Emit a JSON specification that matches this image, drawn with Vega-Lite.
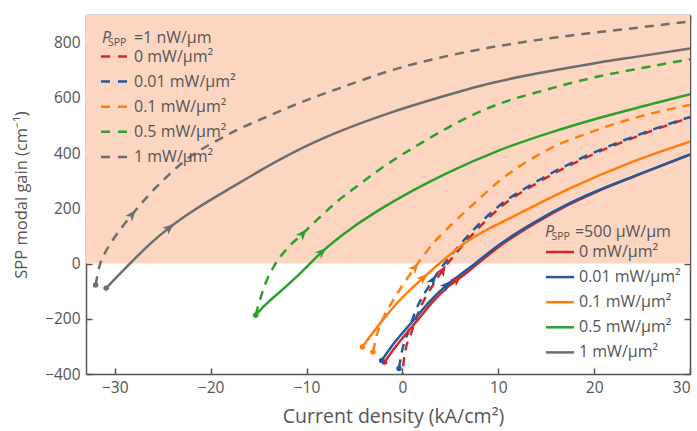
{
  "$schema": "https://vega.github.io/schema/vega-lite/v6.json",
  "width": 604,
  "height": 359,
  "autosize": {"type": "none"},
  "padding": {"left": 86, "top": 15, "right": 7, "bottom": 57},
  "background": "white",
  "config": {
    "font": "Open Sans",
    "view": {"stroke": null},
    "axis": {
      "labelFont": "Open Sans", "titleFont": "Open Sans",
      "labelColor": "#555555", "titleColor": "#555555",
      "labelFontSize": 15.5, "titleFontSize": 16.5, "titleFontWeight": "normal",
      "domainColor": "#555555", "tickColor": "#555555",
      "domainWidth": 1.5, "tickWidth": 1.5, "grid": false,
      "tickSize": 6, "labelPadding": 6, "zindex": 1
    },
    "legend": {
      "labelFont": "Open Sans", "labelFontSize": 16, "labelColor": "#555555",
      "symbolType": "M-1.4,0L1.4,0", "symbolSize": 400, "symbolStrokeWidth": 2.5,
      "padding": 0, "rowPadding": 5.1, "labelLimit": 300
    }
  },
  "datasets": {
    "curves": [
      {"psp": "500 µW/µm", "intensity": "0 mW/µm²", "x": -1.86, "y": -357},
      {"psp": "500 µW/µm", "intensity": "0 mW/µm²", "x": -0.85, "y": -308},
      {"psp": "500 µW/µm", "intensity": "0 mW/µm²", "x": 0.15, "y": -264},
      {"psp": "500 µW/µm", "intensity": "0 mW/µm²", "x": 1.82, "y": -195},
      {"psp": "500 µW/µm", "intensity": "0 mW/µm²", "x": 3.18, "y": -138},
      {"psp": "500 µW/µm", "intensity": "0 mW/µm²", "x": 4.9, "y": -80},
      {"psp": "500 µW/µm", "intensity": "0 mW/µm²", "x": 6.71, "y": -33},
      {"psp": "500 µW/µm", "intensity": "0 mW/µm²", "x": 8.0, "y": 4},
      {"psp": "500 µW/µm", "intensity": "0 mW/µm²", "x": 10.4, "y": 69},
      {"psp": "500 µW/µm", "intensity": "0 mW/µm²", "x": 13.9, "y": 147},
      {"psp": "500 µW/µm", "intensity": "0 mW/µm²", "x": 17.4, "y": 214},
      {"psp": "500 µW/µm", "intensity": "0 mW/µm²", "x": 20.2, "y": 259},
      {"psp": "500 µW/µm", "intensity": "0 mW/µm²", "x": 24.15, "y": 315},
      {"psp": "500 µW/µm", "intensity": "0 mW/µm²", "x": 30, "y": 394},

      {"psp": "500 µW/µm", "intensity": "0.01 mW/µm²", "x": -2.16, "y": -351},
      {"psp": "500 µW/µm", "intensity": "0.01 mW/µm²", "x": -1.15, "y": -301},
      {"psp": "500 µW/µm", "intensity": "0.01 mW/µm²", "x": -0.15, "y": -258},
      {"psp": "500 µW/µm", "intensity": "0.01 mW/µm²", "x": 1.52, "y": -191},
      {"psp": "500 µW/µm", "intensity": "0.01 mW/µm²", "x": 2.88, "y": -136},
      {"psp": "500 µW/µm", "intensity": "0.01 mW/µm²", "x": 4.6, "y": -78},
      {"psp": "500 µW/µm", "intensity": "0.01 mW/µm²", "x": 6.41, "y": -31},
      {"psp": "500 µW/µm", "intensity": "0.01 mW/µm²", "x": 7.72, "y": 4},
      {"psp": "500 µW/µm", "intensity": "0.01 mW/µm²", "x": 10.14, "y": 69},
      {"psp": "500 µW/µm", "intensity": "0.01 mW/µm²", "x": 13.67, "y": 147},
      {"psp": "500 µW/µm", "intensity": "0.01 mW/µm²", "x": 17.2, "y": 214},
      {"psp": "500 µW/µm", "intensity": "0.01 mW/µm²", "x": 20.03, "y": 259},
      {"psp": "500 µW/µm", "intensity": "0.01 mW/µm²", "x": 24.06, "y": 315},
      {"psp": "500 µW/µm", "intensity": "0.01 mW/µm²", "x": 30, "y": 395},

      {"psp": "500 µW/µm", "intensity": "0.1 mW/µm²", "x": -4.18, "y": -302},
      {"psp": "500 µW/µm", "intensity": "0.1 mW/µm²", "x": -2.06, "y": -205},
      {"psp": "500 µW/µm", "intensity": "0.1 mW/µm²", "x": -0.25, "y": -132},
      {"psp": "500 µW/µm", "intensity": "0.1 mW/µm²", "x": 2.17, "y": -52},
      {"psp": "500 µW/µm", "intensity": "0.1 mW/µm²", "x": 6.71, "y": 79},
      {"psp": "500 µW/µm", "intensity": "0.1 mW/µm²", "x": 11.96, "y": 177},
      {"psp": "500 µW/µm", "intensity": "0.1 mW/µm²", "x": 17.2, "y": 268},
      {"psp": "500 µW/µm", "intensity": "0.1 mW/µm²", "x": 24.06, "y": 369},
      {"psp": "500 µW/µm", "intensity": "0.1 mW/µm²", "x": 30, "y": 441},

      {"psp": "500 µW/µm", "intensity": "0.5 mW/µm²", "x": -15.3, "y": -187},
      {"psp": "500 µW/µm", "intensity": "0.5 mW/µm²", "x": -14.3, "y": -150},
      {"psp": "500 µW/µm", "intensity": "0.5 mW/µm²", "x": -12.3, "y": -88},
      {"psp": "500 µW/µm", "intensity": "0.5 mW/µm²", "x": -10.5, "y": -30},
      {"psp": "500 µW/µm", "intensity": "0.5 mW/µm²", "x": -8.4, "y": 42},
      {"psp": "500 µW/µm", "intensity": "0.5 mW/µm²", "x": -5.3, "y": 128},
      {"psp": "500 µW/µm", "intensity": "0.5 mW/µm²", "x": -1.8, "y": 207},
      {"psp": "500 µW/µm", "intensity": "0.5 mW/µm²", "x": 4.5, "y": 325},
      {"psp": "500 µW/µm", "intensity": "0.5 mW/µm²", "x": 10.1, "y": 410},
      {"psp": "500 µW/µm", "intensity": "0.5 mW/µm²", "x": 15.5, "y": 475},
      {"psp": "500 µW/µm", "intensity": "0.5 mW/µm²", "x": 20.6, "y": 528},
      {"psp": "500 µW/µm", "intensity": "0.5 mW/µm²", "x": 25.5, "y": 573},
      {"psp": "500 µW/µm", "intensity": "0.5 mW/µm²", "x": 30, "y": 613},

      {"psp": "500 µW/µm", "intensity": "1 mW/µm²", "x": -30.9, "y": -89},
      {"psp": "500 µW/µm", "intensity": "1 mW/µm²", "x": -29.6, "y": -42},
      {"psp": "500 µW/µm", "intensity": "1 mW/µm²", "x": -27.9, "y": 18},
      {"psp": "500 µW/µm", "intensity": "1 mW/µm²", "x": -26.2, "y": 75},
      {"psp": "500 µW/µm", "intensity": "1 mW/µm²", "x": -24.3, "y": 130},
      {"psp": "500 µW/µm", "intensity": "1 mW/µm²", "x": -22.6, "y": 173},
      {"psp": "500 µW/µm", "intensity": "1 mW/µm²", "x": -17.5, "y": 282},
      {"psp": "500 µW/µm", "intensity": "1 mW/µm²", "x": -12.3, "y": 385},
      {"psp": "500 µW/µm", "intensity": "1 mW/µm²", "x": -9.6, "y": 432},
      {"psp": "500 µW/µm", "intensity": "1 mW/µm²", "x": -7.0, "y": 472},
      {"psp": "500 µW/µm", "intensity": "1 mW/µm²", "x": -1.6, "y": 542},
      {"psp": "500 µW/µm", "intensity": "1 mW/µm²", "x": 4.0, "y": 603},
      {"psp": "500 µW/µm", "intensity": "1 mW/µm²", "x": 9.1, "y": 652},
      {"psp": "500 µW/µm", "intensity": "1 mW/µm²", "x": 14.3, "y": 690},
      {"psp": "500 µW/µm", "intensity": "1 mW/µm²", "x": 19.5, "y": 722},
      {"psp": "500 µW/µm", "intensity": "1 mW/µm²", "x": 25, "y": 752},
      {"psp": "500 µW/µm", "intensity": "1 mW/µm²", "x": 30, "y": 779},

      {"psp": "1 nW/µm", "intensity": "0 mW/µm²", "x": 0.0, "y": -430},
      {"psp": "1 nW/µm", "intensity": "0 mW/µm²", "x": 0.05, "y": -390},
      {"psp": "1 nW/µm", "intensity": "0 mW/µm²", "x": 0.3, "y": -320},
      {"psp": "1 nW/µm", "intensity": "0 mW/µm²", "x": 0.86, "y": -258},
      {"psp": "1 nW/µm", "intensity": "0 mW/µm²", "x": 1.57, "y": -186},
      {"psp": "1 nW/µm", "intensity": "0 mW/µm²", "x": 3.48, "y": -62},
      {"psp": "1 nW/µm", "intensity": "0 mW/µm²", "x": 5.6, "y": 38},
      {"psp": "1 nW/µm", "intensity": "0 mW/µm²", "x": 7.72, "y": 120},
      {"psp": "1 nW/µm", "intensity": "0 mW/µm²", "x": 10.44, "y": 210},
      {"psp": "1 nW/µm", "intensity": "0 mW/µm²", "x": 13.97, "y": 290},
      {"psp": "1 nW/µm", "intensity": "0 mW/µm²", "x": 19.1, "y": 383},
      {"psp": "1 nW/µm", "intensity": "0 mW/µm²", "x": 24.3, "y": 458},
      {"psp": "1 nW/µm", "intensity": "0 mW/µm²", "x": 30, "y": 529},

      {"psp": "1 nW/µm", "intensity": "0.01 mW/µm²", "x": -0.35, "y": -380},
      {"psp": "1 nW/µm", "intensity": "0.01 mW/µm²", "x": -0.25, "y": -357},
      {"psp": "1 nW/µm", "intensity": "0.01 mW/µm²", "x": 0.06, "y": -302},
      {"psp": "1 nW/µm", "intensity": "0.01 mW/µm²", "x": 0.56, "y": -253},
      {"psp": "1 nW/µm", "intensity": "0.01 mW/µm²", "x": 1.27, "y": -181},
      {"psp": "1 nW/µm", "intensity": "0.01 mW/µm²", "x": 3.18, "y": -60},
      {"psp": "1 nW/µm", "intensity": "0.01 mW/µm²", "x": 5.3, "y": 39},
      {"psp": "1 nW/µm", "intensity": "0.01 mW/µm²", "x": 7.42, "y": 122},
      {"psp": "1 nW/µm", "intensity": "0.01 mW/µm²", "x": 10.14, "y": 210},
      {"psp": "1 nW/µm", "intensity": "0.01 mW/µm²", "x": 13.67, "y": 290},
      {"psp": "1 nW/µm", "intensity": "0.01 mW/µm²", "x": 18.82, "y": 384},
      {"psp": "1 nW/µm", "intensity": "0.01 mW/µm²", "x": 24.06, "y": 459},
      {"psp": "1 nW/µm", "intensity": "0.01 mW/µm²", "x": 30, "y": 531},

      {"psp": "1 nW/µm", "intensity": "0.1 mW/µm²", "x": -3.07, "y": -320},
      {"psp": "1 nW/µm", "intensity": "0.1 mW/µm²", "x": -2.6, "y": -250},
      {"psp": "1 nW/µm", "intensity": "0.1 mW/µm²", "x": -2.0, "y": -198},
      {"psp": "1 nW/µm", "intensity": "0.1 mW/µm²", "x": -1.0, "y": -135},
      {"psp": "1 nW/µm", "intensity": "0.1 mW/µm²", "x": 1.32, "y": -14},
      {"psp": "1 nW/µm", "intensity": "0.1 mW/µm²", "x": 3.18, "y": 72},
      {"psp": "1 nW/µm", "intensity": "0.1 mW/µm²", "x": 5.3, "y": 147},
      {"psp": "1 nW/µm", "intensity": "0.1 mW/µm²", "x": 7.72, "y": 225},
      {"psp": "1 nW/µm", "intensity": "0.1 mW/µm²", "x": 10.14, "y": 300},
      {"psp": "1 nW/µm", "intensity": "0.1 mW/µm²", "x": 13.27, "y": 375},
      {"psp": "1 nW/µm", "intensity": "0.1 mW/µm²", "x": 16.1, "y": 428},
      {"psp": "1 nW/µm", "intensity": "0.1 mW/µm²", "x": 19.2, "y": 470},
      {"psp": "1 nW/µm", "intensity": "0.1 mW/µm²", "x": 22.35, "y": 508},
      {"psp": "1 nW/µm", "intensity": "0.1 mW/µm²", "x": 26.18, "y": 545},
      {"psp": "1 nW/µm", "intensity": "0.1 mW/µm²", "x": 30, "y": 574},

      {"psp": "1 nW/µm", "intensity": "0.5 mW/µm²", "x": -15.3, "y": -187},
      {"psp": "1 nW/µm", "intensity": "0.5 mW/µm²", "x": -14.8, "y": -125},
      {"psp": "1 nW/µm", "intensity": "0.5 mW/µm²", "x": -14.2, "y": -65},
      {"psp": "1 nW/µm", "intensity": "0.5 mW/µm²", "x": -13.4, "y": -10},
      {"psp": "1 nW/µm", "intensity": "0.5 mW/µm²", "x": -12.0, "y": 55},
      {"psp": "1 nW/µm", "intensity": "0.5 mW/µm²", "x": -10.4, "y": 108},
      {"psp": "1 nW/µm", "intensity": "0.5 mW/µm²", "x": -8.6, "y": 168},
      {"psp": "1 nW/µm", "intensity": "0.5 mW/µm²", "x": -6.9, "y": 222},
      {"psp": "1 nW/µm", "intensity": "0.5 mW/µm²", "x": -5.2, "y": 268},
      {"psp": "1 nW/µm", "intensity": "0.5 mW/µm²", "x": -2.2, "y": 345},
      {"psp": "1 nW/µm", "intensity": "0.5 mW/µm²", "x": 1.9, "y": 435},
      {"psp": "1 nW/µm", "intensity": "0.5 mW/µm²", "x": 5.0, "y": 497},
      {"psp": "1 nW/µm", "intensity": "0.5 mW/µm²", "x": 9.1, "y": 565},
      {"psp": "1 nW/µm", "intensity": "0.5 mW/µm²", "x": 15.7, "y": 636},
      {"psp": "1 nW/µm", "intensity": "0.5 mW/µm²", "x": 19.5, "y": 670},
      {"psp": "1 nW/µm", "intensity": "0.5 mW/µm²", "x": 25, "y": 708},
      {"psp": "1 nW/µm", "intensity": "0.5 mW/µm²", "x": 30, "y": 740},

      {"psp": "1 nW/µm", "intensity": "1 mW/µm²", "x": -32.0, "y": -78},
      {"psp": "1 nW/µm", "intensity": "1 mW/µm²", "x": -31.6, "y": -10},
      {"psp": "1 nW/µm", "intensity": "1 mW/µm²", "x": -31.0, "y": 40},
      {"psp": "1 nW/µm", "intensity": "1 mW/µm²", "x": -30.3, "y": 80},
      {"psp": "1 nW/µm", "intensity": "1 mW/µm²", "x": -28.2, "y": 177},
      {"psp": "1 nW/µm", "intensity": "1 mW/µm²", "x": -26.4, "y": 250},
      {"psp": "1 nW/µm", "intensity": "1 mW/µm²", "x": -25.0, "y": 300},
      {"psp": "1 nW/µm", "intensity": "1 mW/µm²", "x": -22.6, "y": 375},
      {"psp": "1 nW/µm", "intensity": "1 mW/µm²", "x": -19.2, "y": 448},
      {"psp": "1 nW/µm", "intensity": "1 mW/µm²", "x": -17.1, "y": 486},
      {"psp": "1 nW/µm", "intensity": "1 mW/µm²", "x": -13.7, "y": 538},
      {"psp": "1 nW/µm", "intensity": "1 mW/µm²", "x": -11.2, "y": 575},
      {"psp": "1 nW/µm", "intensity": "1 mW/µm²", "x": -6.0, "y": 642},
      {"psp": "1 nW/µm", "intensity": "1 mW/µm²", "x": -1.3, "y": 698},
      {"psp": "1 nW/µm", "intensity": "1 mW/µm²", "x": 4.0, "y": 746},
      {"psp": "1 nW/µm", "intensity": "1 mW/µm²", "x": 9.1, "y": 782},
      {"psp": "1 nW/µm", "intensity": "1 mW/µm²", "x": 14.0, "y": 809},
      {"psp": "1 nW/µm", "intensity": "1 mW/µm²", "x": 19.5, "y": 834},
      {"psp": "1 nW/µm", "intensity": "1 mW/µm²", "x": 25, "y": 856},
      {"psp": "1 nW/µm", "intensity": "1 mW/µm²", "x": 30, "y": 877}
    ],
    "starts": [
      {"intensity": "1 mW/µm²", "x": -32.0, "y": -78},
      {"intensity": "1 mW/µm²", "x": -30.9, "y": -89},
      {"intensity": "0.5 mW/µm²", "x": -15.3, "y": -187},
      {"intensity": "0.1 mW/µm²", "x": -3.07, "y": -320},
      {"intensity": "0.1 mW/µm²", "x": -4.18, "y": -302},
      {"intensity": "0 mW/µm²", "x": -1.86, "y": -357},
      {"intensity": "0.01 mW/µm²", "x": -2.16, "y": -351},
      {"intensity": "0.01 mW/µm²", "x": -0.35, "y": -380}
    ],
    "arrows": [
      {"curve": "nW 1", "intensity": "1 mW/µm²", "x": -28.2, "y": 177},
      {"curve": "µW 1", "intensity": "1 mW/µm²", "x": -24.3, "y": 130},
      {"curve": "nW 0.5", "intensity": "0.5 mW/µm²", "x": -10.4, "y": 108},
      {"curve": "µW 0.5", "intensity": "0.5 mW/µm²", "x": -8.4, "y": 42},
      {"curve": "nW 0.1", "intensity": "0.1 mW/µm²", "x": 1.32, "y": -14},
      {"curve": "µW 0.1", "intensity": "0.1 mW/µm²", "x": 2.17, "y": -52},
      {"curve": "nW 0", "intensity": "0 mW/µm²", "x": 4.2, "y": -25},
      {"curve": "µW 0", "intensity": "0 mW/µm²", "x": 5.7, "y": -58},
      {"curve": "nW 0.01", "intensity": "0.01 mW/µm²", "x": 3.18, "y": -60},
      {"curve": "µW 0.01", "intensity": "0.01 mW/µm²", "x": 4.6, "y": -78}
    ]
  },
  "layer": [
    {
      "data": {"values": [{}]},
      "mark": {"type": "rect", "color": "#fdd6c2"},
      "encoding": {
        "x": {"datum": -33, "type": "quantitative", "scale": {"domain": [-33, 30], "nice": false, "zero": false}, "axis": null},
        "x2": {"datum": 30},
        "y": {"datum": 0, "type": "quantitative", "scale": {"domain": [-400, 900], "nice": false, "zero": false}, "axis": null},
        "y2": {"datum": 900}
      }
    },
    {
      "data": {"name": "curves"},
      "transform": [{"filter": "datum.psp === '1 nW/µm'"}],
      "mark": {"type": "line", "strokeDash": [9, 7], "strokeWidth": 2.5, "interpolate": "monotone", "clip": true},
      "encoding": {
        "x": {"field": "x", "type": "quantitative",
              "scale": {"domain": [-33, 30], "nice": false, "zero": false},
              "axis": {"orient": "bottom", "values": [-30, -20, -10, 0, 10, 20, 30], "domain": false, "offset": -6,
                       "title": "Current density (kA/cm²)", "titleFontSize": 19.5, "titlePadding": 12, "titleX": 307}},
        "y": {"field": "y", "type": "quantitative",
              "scale": {"domain": [-400, 900], "nice": false, "zero": false},
              "axis": {"orient": "left", "values": [-400, -200, 0, 200, 400, 600, 800], "domain": false, "offset": -6,
                       "title": "SPP modal gain (cm⁻¹)", "titlePadding": 15}},
        "color": {"field": "intensity", "type": "nominal",
                  "scale": {"domain": ["0 mW/µm²", "0.01 mW/µm²", "0.1 mW/µm²", "0.5 mW/µm²", "1 mW/µm²"],
                            "range": ["#d62728", "#1f5c99", "#ff7f0e", "#2ca02c", "#6e6e6e"]},
                  "legend": {"orient": "none", "legendX": 17.5, "legendY": 30, "title": null,
                             "symbolDash": [9, 8], "labelOffset": 7.5}}
      }
    },
    {
      "data": {"name": "curves"},
      "transform": [{"filter": "datum.psp === '500 µW/µm'"}],
      "mark": {"type": "line", "strokeWidth": 2.5, "interpolate": "monotone", "clip": true},
      "encoding": {
        "x": {"field": "x", "type": "quantitative", "scale": {"domain": [-33, 30], "nice": false, "zero": false},
              "axis": {"orient": "top", "values": [-30, -20, -10, 0, 10, 20, 30], "labels": false, "domain": false, "title": null, "offset": -6}},
        "y": {"field": "y", "type": "quantitative", "scale": {"domain": [-400, 900], "nice": false, "zero": false},
              "axis": {"orient": "right", "values": [-400, -200, 0, 200, 400, 600, 800], "labels": false, "domain": false, "title": null, "offset": -6}},
        "color": {"field": "intensity", "type": "nominal",
                  "scale": {"domain": ["0 mW/µm²", "0.01 mW/µm²", "0.1 mW/µm²", "0.5 mW/µm²", "1 mW/µm²"],
                            "range": ["#d62728", "#1f5c99", "#ff7f0e", "#2ca02c", "#6e6e6e"]},
                  "legend": {"orient": "none", "legendX": 462.5, "legendY": 225.5, "title": null, "labelOffset": 7.5}}
      }
    },
    {
      "data": {"name": "starts"},
      "mark": {"type": "point", "filled": true, "size": 30, "opacity": 1},
      "encoding": {
        "x": {"field": "x", "type": "quantitative", "scale": {"domain": [-33, 30], "nice": false, "zero": false},
              "axis": {"orient": "bottom", "labels": false, "ticks": false, "domain": true, "title": null}},
        "y": {"field": "y", "type": "quantitative", "scale": {"domain": [-400, 900], "nice": false, "zero": false},
              "axis": {"orient": "left", "labels": false, "ticks": false, "domain": true, "title": null}},
        "color": {"field": "intensity", "type": "nominal",
                  "scale": {"domain": ["0 mW/µm²", "0.01 mW/µm²", "0.1 mW/µm²", "0.5 mW/µm²", "1 mW/µm²"],
                            "range": ["#d62728", "#1f5c99", "#ff7f0e", "#2ca02c", "#6e6e6e"]},
                  "legend": null}
      }
    },
    {
      "data": {"name": "arrows"},
      "mark": {"type": "point", "filled": true, "size": 140, "opacity": 1, "shape": "M0,-1L0.75,0.9L0,0.4L-0.75,0.9Z"},
      "encoding": {
        "x": {"field": "x", "type": "quantitative", "scale": {"domain": [-33, 30], "nice": false, "zero": false},
              "axis": {"orient": "top", "labels": false, "ticks": false, "domain": true, "title": null}},
        "y": {"field": "y", "type": "quantitative", "scale": {"domain": [-400, 900], "nice": false, "zero": false},
              "axis": {"orient": "right", "labels": false, "ticks": false, "domain": true, "title": null}},
        "color": {"field": "intensity", "type": "nominal",
                  "scale": {"domain": ["0 mW/µm²", "0.01 mW/µm²", "0.1 mW/µm²", "0.5 mW/µm²", "1 mW/µm²"],
                            "range": ["#d62728", "#1f5c99", "#ff7f0e", "#2ca02c", "#6e6e6e"]},
                  "legend": null},
        "angle": {"field": "curve", "type": "nominal",
                  "scale": {"type": "ordinal",
                            "domain": ["nW 1", "µW 1", "nW 0.5", "µW 0.5", "nW 0.1", "µW 0.1", "nW 0", "µW 0", "nW 0.01", "µW 0.01"],
                            "range": [39, 50, 40, 48, 40, 47, 32, 50, 33, 45]},
                  "legend": null}
      }
    },
    {
      "data": {"values": [{}]},
      "mark": {"type": "text", "text": "P", "fontStyle": "italic", "fontSize": 16, "color": "#555555", "align": "left", "baseline": "alphabetic"},
      "encoding": {"x": {"datum": -31.33, "type": "quantitative", "axis": null}, "y": {"datum": 798.5, "type": "quantitative", "axis": null}}
    },
    {
      "data": {"values": [{}]},
      "mark": {"type": "text", "text": "SPP", "fontSize": 10.5, "color": "#555555", "align": "left", "baseline": "alphabetic"},
      "encoding": {"x": {"datum": -30.7, "type": "quantitative", "axis": null}, "y": {"datum": 788.7, "type": "quantitative", "axis": null}}
    },
    {
      "data": {"values": [{}]},
      "mark": {"type": "text", "text": "=1 nW/µm", "fontSize": 16, "color": "#555555", "align": "left", "baseline": "alphabetic"},
      "encoding": {"x": {"datum": -28.0, "type": "quantitative", "axis": null}, "y": {"datum": 798.5, "type": "quantitative", "axis": null}}
    },
    {
      "data": {"values": [{}]},
      "mark": {"type": "text", "text": "P", "fontStyle": "italic", "fontSize": 16, "color": "#555555", "align": "left", "baseline": "alphabetic"},
      "encoding": {"x": {"datum": 14.88, "type": "quantitative", "axis": null}, "y": {"datum": 96, "type": "quantitative", "axis": null}}
    },
    {
      "data": {"values": [{}]},
      "mark": {"type": "text", "text": "SPP", "fontSize": 10.5, "color": "#555555", "align": "left", "baseline": "alphabetic"},
      "encoding": {"x": {"datum": 15.55, "type": "quantitative", "axis": null}, "y": {"datum": 86.9, "type": "quantitative", "axis": null}}
    },
    {
      "data": {"values": [{}]},
      "mark": {"type": "text", "text": "=500 µW/µm", "fontSize": 16, "color": "#555555", "align": "left", "baseline": "alphabetic"},
      "encoding": {"x": {"datum": 18.0, "type": "quantitative", "axis": null}, "y": {"datum": 96, "type": "quantitative", "axis": null}}
    }
  ],
  "resolve": {
    "scale": {"color": "independent", "angle": "independent"},
    "axis": {"x": "independent", "y": "independent"}
  }
}
